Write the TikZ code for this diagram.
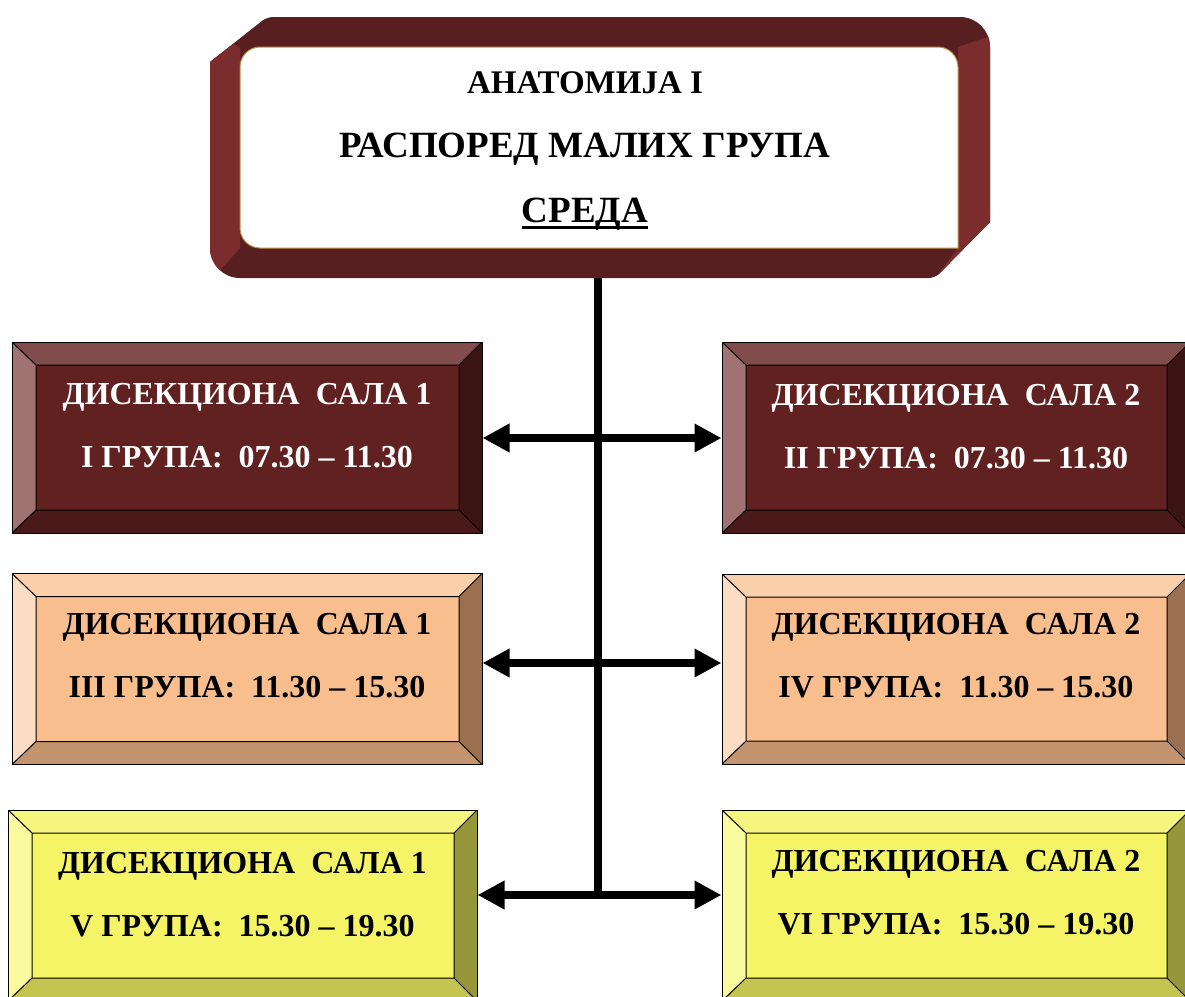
\documentclass[tikz,border=0pt]{standalone}
\usepackage{fontspec}
\setmainfont{Liberation Serif}
\usetikzlibrary{arrows.meta,calc}
\definecolor{frdark}{HTML}{571F1F}
\definecolor{frside}{HTML}{7B2C2C}
\definecolor{frgold}{HTML}{B8904A}
\definecolor{aface}{HTML}{612121}
\definecolor{atop}{HTML}{804C4C}
\definecolor{aleft}{HTML}{A07272}
\definecolor{abot}{HTML}{4A1A1A}
\definecolor{aright}{HTML}{3D1414}
\definecolor{bface}{HTML}{F8BE8E}
\definecolor{btop}{HTML}{FAD0AA}
\definecolor{bleft}{HTML}{FCDCC2}
\definecolor{bbot}{HTML}{C4946E}
\definecolor{bright}{HTML}{9A7050}
\definecolor{cface}{HTML}{F4F466}
\definecolor{ctop}{HTML}{F6F67E}
\definecolor{cleft}{HTML}{FAFA9E}
\definecolor{cbot}{HTML}{C4C450}
\definecolor{cright}{HTML}{96963A}
\newcommand\myul[1]{{\setbox0\hbox{#1}\rlap{\rule[-7pt]{\wd0}{3pt}}\box0}}
\tikzset{
  bevelbox/.style n args={5}{rectangle, draw=black, line width=1pt, inner sep=0pt,
    minimum width=470pt, minimum height=191pt,
    path picture={
      \coordinate (pa) at (path picture bounding box.north west);
      \coordinate (pb) at (path picture bounding box.north east);
      \coordinate (pc) at (path picture bounding box.south east);
      \coordinate (pd) at (path picture bounding box.south west);
      \coordinate (qa) at ([shift={(24pt,-23pt)}]pa);
      \coordinate (qb) at ([shift={(-23pt,-23pt)}]pb);
      \coordinate (qc) at ([shift={(-23pt,23pt)}]pc);
      \coordinate (qd) at ([shift={(24pt,23pt)}]pd);
      \fill[#2] (pa)--(pb)--(qb)--(qa)--cycle;
      \fill[#3] (pa)--(qa)--(qd)--(pd)--cycle;
      \fill[#4] (pd)--(qd)--(qc)--(pc)--cycle;
      \fill[#5] (pb)--(pc)--(qc)--(qb)--cycle;
      \fill[#1] (qa)--(qb)--(qc)--(qd)--cycle;
      \draw[black,line width=1pt] (qa)--(qb)--(qc)--(qd)--cycle
        (pa)--(qa) (pb)--(qb) (pc)--(qc) (pd)--(qd);
    }},
  boxa/.style={bevelbox={aface}{atop}{aleft}{abot}{aright}},
  boxb/.style={bevelbox={bface}{btop}{bleft}{bbot}{bright}},
  boxc/.style={bevelbox={cface}{ctop}{cleft}{cbot}{cright}},
  boxtext/.style={align=center, inner sep=0pt, font=\fontsize{32}{63.5}\selectfont\bfseries},
  conn/.style={line width=8pt, black},
  tip/.style={-{Triangle[length=27pt,width=27pt]}},
  dtip/.style={{Triangle[length=27pt,width=27pt]}-{Triangle[length=27pt,width=27pt]}}
}
\begin{document}
\begin{tikzpicture}[x=1pt,y=-1pt]
\useasboundingbox (0,0) rectangle (1185,996);
% title frame
\path[fill=frdark] (267,17) [rounded corners=30pt] -- (990,17) [sharp corners] -- (990,222) [rounded corners=6pt] -- (935,278) [rounded corners=30pt] -- (210,278) [sharp corners] -- (210,62) [rounded corners=6pt] -- cycle;
\begin{scope}
  \clip (267,17) [rounded corners=30pt] -- (990,17) [sharp corners] -- (990,222) [rounded corners=6pt] -- (935,278) [rounded corners=30pt] -- (210,278) [sharp corners] -- (210,62) [rounded corners=6pt] -- cycle;
  \fill[frside] (240,47) -- (225,40) -- (200,40) -- (200,285) -- (222,268) -- (240,248) -- cycle;
  \fill[frside] (958,47) -- (990,36) -- (1000,36) -- (1000,285) -- (930,285) -- (958,248) -- cycle;
\end{scope}
\path[fill=white, draw=frgold, line width=1pt] (958,248) [rounded corners=20pt] -- (240,248) -- (240,47) -- (958,47) [sharp corners] -- cycle;
\node[align=center, inner sep=0pt, font=\fontsize{37}{64.5}\selectfont\bfseries] (title) at (585,151)
  {{\fontsize{33}{64.5}\selectfont АНАТОМИЈА I}\\РАСПОРЕД МАЛИХ ГРУПА\\\myul{СРЕДА}};
% boxes
\node[boxa] (b1l) at (247,437.5) {};
\node[boxa, minimum width=468pt] (b1r) at (956,437.5) {};
\node[boxb] (b2l) at (247,669) {};
\node[boxb, minimum width=468pt, minimum height=190pt] (b2r) at (956,669) {};
\node[boxc, minimum width=469pt] (b3l) at (242.5,905.5) {};
\node[boxc, minimum width=468pt] (b3r) at (956,905.5) {};
\node[boxtext, text=white] (t1l) at ([yshift=12pt]b1l.center) {ДИСЕКЦИОНА\ \ САЛА 1\\I ГРУПА:\ \ 07.30 – 11.30};
\node[boxtext, text=white] (t1r) at ([yshift=11pt]b1r.center) {ДИСЕКЦИОНА\ \ САЛА 2\\II ГРУПА:\ \ 07.30 – 11.30};
\node[boxtext] (t2l) at ([yshift=13.5pt]b2l.center) {ДИСЕКЦИОНА\ \ САЛА 1\\III ГРУПА:\ \ 11.30 – 15.30};
\node[boxtext] (t2r) at ([yshift=13.5pt]b2r.center) {ДИСЕКЦИОНА\ \ САЛА 2\\IV ГРУПА:\ \ 11.30 – 15.30};
\node[boxtext] (t3l) at ([yshift=11pt]b3l.center) {ДИСЕКЦИОНА\ \ САЛА 1\\V ГРУПА:\ \ 15.30 – 19.30};
\node[boxtext] (t3r) at ([yshift=13pt]b3r.center) {ДИСЕКЦИОНА\ \ САЛА 2\\VI ГРУПА:\ \ 15.30 – 19.30};
% connectors
\coordinate (tb) at (598,278);
\coordinate (j1) at (598,438);
\coordinate (j2) at (598,663);
\coordinate (j3) at (598,895);
\coordinate (j3l) at (594,895);
\draw[conn] (tb) -- (j1) -- (j2) -- ([yshift=-4pt]j3);
\draw[conn, dtip] (b1l.east |- j1) -- (b1r.west |- j1);
\draw[conn, dtip] (b2l.east |- j2) -- (b2r.west |- j2);
\draw[conn, tip] (j2) -- (j3) -- (b3r.west |- j3);
\draw[conn, tip] (j3l) -- (b3l.east |- j3);
\end{tikzpicture}
\end{document}
